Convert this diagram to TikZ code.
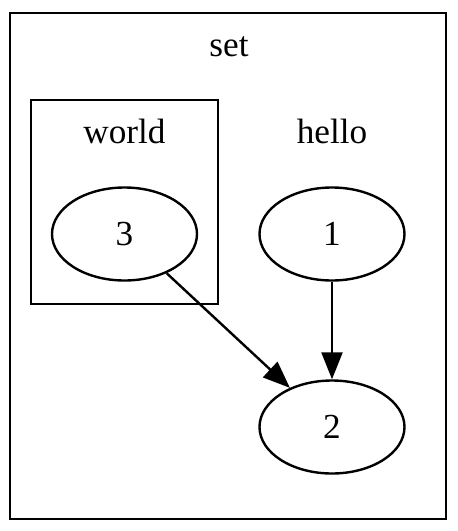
\documentclass[tikz,border=0pt]{standalone}
\usepackage{fontspec}
\setmainfont{Liberation Serif}
\usetikzlibrary{shapes.geometric,arrows.meta}
\begin{document}
\begin{tikzpicture}[x=0.5pt,y=-0.5pt,
  every node/.style={font=\fontsize{17.6pt}{20pt}\selectfont},
  ell/.style={draw,line width=1.2pt,ellipse,minimum width=72.5pt,minimum height=46.5pt,inner sep=0pt},
  box/.style={draw,line width=1.2pt},
  edge/.style={line width=1.2pt,-{Triangle[length=13.5pt,width=10.5pt]}}]
\useasboundingbox (0,0) rectangle (458,531);
\draw[box] (10,13) rectangle (446,519);
\node (setlbl) at (229,47) {set};
\draw[box] (31,100) rectangle (218,304);
\node (worldlbl) at (124.5,131) {world};
\node (hellolbl) at (332,131) {hello};
\node[ell] (n3) at (124.5,234) {3};
\node[ell] (n1) at (332,234) {1};
\node[ell] (n2) at (332,427) {2};
\draw[edge] (n3) -- (n2);
\draw[edge] (n1) -- (n2);
\end{tikzpicture}
\end{document}
